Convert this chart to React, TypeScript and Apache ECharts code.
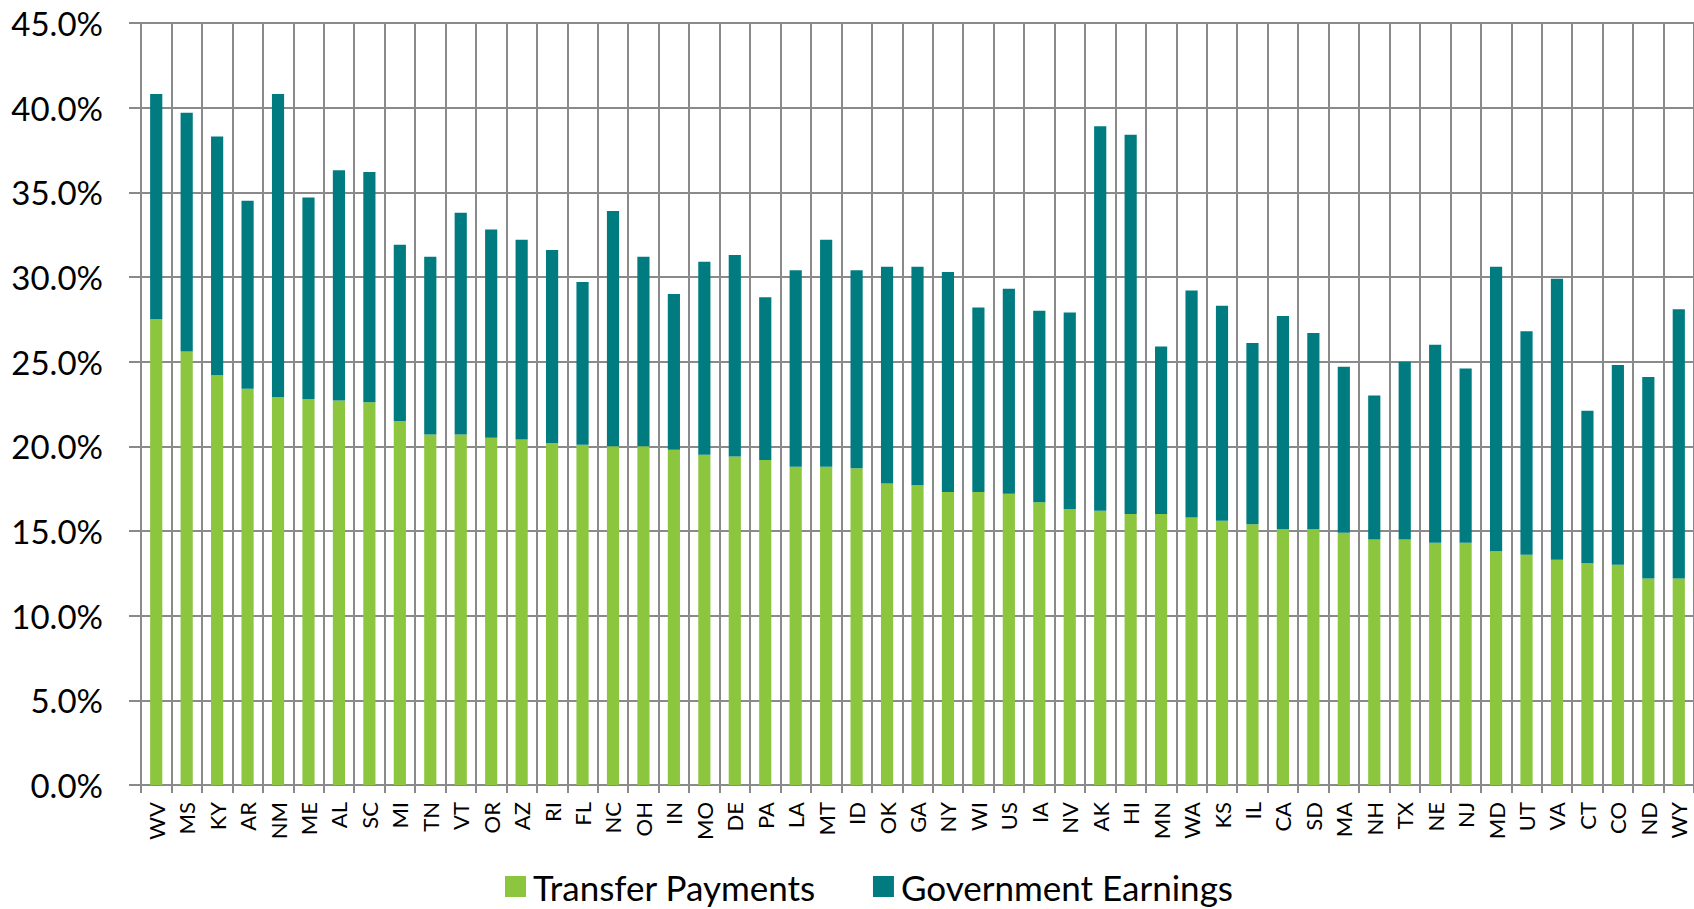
import React, { useEffect, useRef } from "react";
import * as echarts from "echarts";

const states = ["WV","MS","KY","AR","NM","ME","AL","SC","MI","TN","VT","OR","AZ","RI","FL","NC","OH","IN","MO","DE","PA","LA","MT","ID","OK","GA","NY","WI","US","IA","NV","AK","HI","MN","WA","KS","IL","CA","SD","MA","NH","TX","NE","NJ","MD","UT","VA","CT","CO","ND","WY"];

const transferPayments = [27.5,25.6,24.2,23.4,22.9,22.8,22.7,22.6,21.5,20.7,20.7,20.5,20.4,20.2,20.1,20.0,20.0,19.8,19.5,19.4,19.2,18.8,18.8,18.7,17.8,17.7,17.3,17.3,17.2,16.7,16.3,16.2,16.0,16.0,15.8,15.6,15.4,15.1,15.1,14.9,14.5,14.5,14.3,14.3,13.8,13.6,13.3,13.1,13.0,12.2,12.2];

const governmentEarnings = [13.3,14.1,14.1,11.1,17.9,11.9,13.6,13.6,10.4,10.5,13.1,12.3,11.8,11.4,9.6,13.9,11.2,9.2,11.4,11.9,9.6,11.6,13.4,11.7,12.8,12.9,13.0,10.9,12.1,11.3,11.6,22.7,22.4,9.9,13.4,12.7,10.7,12.6,11.6,9.8,8.5,10.5,11.7,10.3,16.8,13.2,16.6,9.0,11.8,11.9,15.9];

const yMin = 0;
const yMax = 45;
const yStep = 5;

const FONT = "Lato";
const GRID = "#8a8a8a";

export default function App() {
  const ref = useRef<HTMLDivElement>(null);
  useEffect(() => {
    if (!ref.current) return;
    const chart = echarts.init(ref.current, undefined, { renderer: "svg" });
    chart.setOption({
      animation: false,
      backgroundColor: "#ffffff",
      textStyle: { fontFamily: FONT, color: "#000" },
      grid: { left: 141, top: 23, right: 0, bottom: 124, containLabel: false },
      legend: {
        left: 500,
        top: 864,
        itemWidth: 21,
        itemHeight: 21,
        itemGap: 57,
        icon: "rect",
        textStyle: { fontFamily: FONT, fontSize: 35, color: "#000", padding: [0, 0, 0, 2] },
        data: ["Transfer Payments", "Government Earnings"],
      },
      xAxis: {
        type: "category",
        data: states,
        boundaryGap: true,
        axisLine: { show: true, lineStyle: { color: GRID, width: 2 } },
        axisTick: { show: true, alignWithLabel: false, length: 8, lineStyle: { color: GRID, width: 2 } },
        splitLine: { show: true, lineStyle: { color: GRID, width: 2 } },
        axisLabel: {
          rotate: 90,
          interval: 0,
          margin: 17,
          fontFamily: FONT,
          fontSize: 22,
          color: "#000",
        },
      },
      yAxis: {
        type: "value",
        min: yMin,
        max: yMax,
        interval: yStep,
        axisLine: { show: true, lineStyle: { color: GRID, width: 2 } },
        axisTick: { show: true, length: 12, lineStyle: { color: GRID, width: 2 } },
        splitLine: { show: true, lineStyle: { color: GRID, width: 2 } },
        axisLabel: {
          margin: 38,
          fontFamily: FONT,
          fontSize: 33,
          color: "#000",
          formatter: (v: number) => `${v.toFixed(1)}%`,
        },
      },
      series: [
        {
          name: "Transfer Payments",
          type: "bar",
          stack: "total",
          barWidth: "40%",
          itemStyle: { color: "#8cc63f" },
          data: transferPayments,
        },
        {
          name: "Government Earnings",
          type: "bar",
          stack: "total",
          barWidth: "40%",
          itemStyle: { color: "#007c80" },
          data: governmentEarnings,
        },
      ],
    });
    return () => chart.dispose();
  }, []);
  return (
    <div
      ref={ref}
      style={{ position: "absolute", left: 0, top: 0, width: 1694, height: 909, background: "#fff" }}
    />
  );
}
